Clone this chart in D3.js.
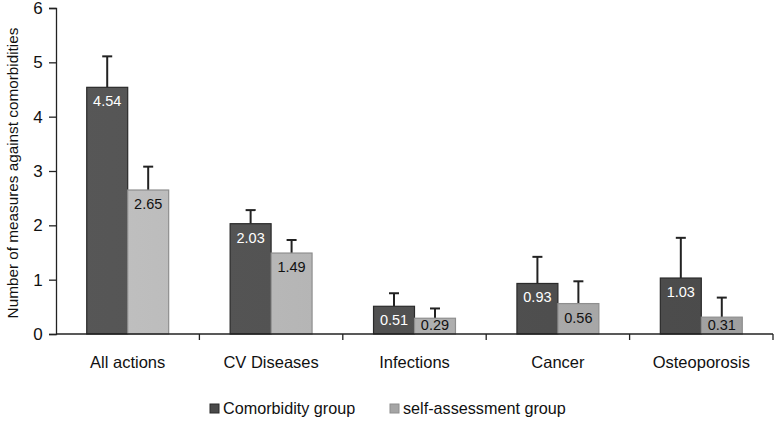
<!DOCTYPE html>
<html>
<head>
<meta charset="utf-8">
<script src="https://cdn.jsdelivr.net/npm/d3@7"></script>
<style>
  body { margin: 0; background: #fff; }
  text { font-family: "Liberation Sans", Arial, sans-serif; }
</style>
</head>
<body>
<svg id="chart" width="777" height="421"></svg>
<script>
// data
let categories = ["All actions", "CV Diseases", "Infections", "Cancer", "Osteoporosis"];
let comorbidity = [4.54, 2.03, 0.51, 0.93, 1.03];
let comorbidityErr = [5.11, 2.28, 0.75, 1.42, 1.77];
let selfAssess = [2.65, 1.49, 0.29, 0.56, 0.31];
let selfAssessErr = [3.08, 1.73, 0.47, 0.97, 0.67];
let seriesNames = ["Comorbidity group", "self-assessment group"];
let yTicks = [0, 1, 2, 3, 4, 5, 6];

let svg = d3.select("#chart");
let margin = { left: 56, right: 4, top: 8, bottom: 87 };
let width = 777, height = 421;

let x = d3.scaleBand()
  .domain(categories)
  .range([margin.left, width - margin.right])
  .paddingInner(0)
  .paddingOuter(0);

let x1 = d3.scaleBand()
  .domain([0, 1])
  .range([0, x.bandwidth()])
  .paddingInner(0)
  .paddingOuter(0.75);

let y = d3.scaleLinear()
  .domain([0, 6])
  .range([height - margin.bottom, margin.top]);

// gradients across the plot: bars get a bit darker to the right
let defs = svg.append("defs");
let grads = [["gDark", "#575757", "#4a4a4a"], ["gLight", "#c2c2c2", "#9e9e9e"]];
grads.forEach((g) => {
  let lg = defs.append("linearGradient").attr("id", g[0])
    .attr("gradientUnits", "userSpaceOnUse")
    .attr("x1", margin.left).attr("y1", 0).attr("x2", width - margin.right).attr("y2", 0);
  lg.append("stop").attr("offset", "0%").attr("stop-color", g[1]);
  lg.append("stop").attr("offset", "100%").attr("stop-color", g[2]);
});

let fills = ["url(#gDark)", "url(#gLight)"];
let strokes = ["#2a2a2a", "#8e8e8e"];
let labelColors = ["#fff", "#111"];

let rows = [];
categories.forEach((c, i) => {
  rows.push({ cat: c, s: 0, v: comorbidity[i], e: comorbidityErr[i] });
  rows.push({ cat: c, s: 1, v: selfAssess[i], e: selfAssessErr[i] });
});

// error bars (drawn first so bars cover the lower part)
let err = svg.append("g").selectAll("g").data(rows).enter().append("g");
err.append("line")
  .attr("x1", (d) => x(d.cat) + x1(d.s) + x1.bandwidth() / 2)
  .attr("x2", (d) => x(d.cat) + x1(d.s) + x1.bandwidth() / 2)
  .attr("y1", (d) => y(d.v))
  .attr("y2", (d) => y(d.e))
  .attr("stroke", "#222").attr("stroke-width", 2);
err.append("line")
  .attr("x1", (d) => x(d.cat) + x1(d.s) + x1.bandwidth() / 2 - 5)
  .attr("x2", (d) => x(d.cat) + x1(d.s) + x1.bandwidth() / 2 + 5)
  .attr("y1", (d) => y(d.e))
  .attr("y2", (d) => y(d.e))
  .attr("stroke", "#222").attr("stroke-width", 2);

svg.append("g").selectAll("rect").data(rows).enter().append("rect")
  .attr("x", (d) => x(d.cat) + x1(d.s))
  .attr("y", (d) => y(d.v))
  .attr("width", x1.bandwidth())
  .attr("height", (d) => y(0) - y(d.v))
  .attr("fill", (d) => fills[d.s])
  .attr("stroke", (d) => strokes[d.s])
  .attr("stroke-width", 1.2);

// value labels inside the bars
svg.append("g").selectAll("text").data(rows).enter().append("text")
  .attr("x", (d) => x(d.cat) + x1(d.s) + x1.bandwidth() / 2)
  .attr("y", (d) => Math.min(y(d.v) + 19, y(0) - 4))
  .attr("text-anchor", "middle")
  .attr("font-size", 14.5)
  .attr("fill", (d) => labelColors[d.s])
  .text((d) => d.v.toFixed(2));

// y axis
let yAxis = svg.append("g")
  .attr("transform", "translate(" + margin.left + ",0)")
  .call(d3.axisLeft(y).tickValues(yTicks).tickSize(7).tickFormat(d3.format("d")));
yAxis.selectAll("path, line").attr("stroke", "#222").attr("stroke-width", 1.3);
yAxis.selectAll("text").attr("font-size", 17).attr("fill", "#111").attr("dx", "-0.2em")
  .style("font-family", "'Liberation Sans', Arial, sans-serif");

// x axis: ticks at category boundaries
let xAxis = svg.append("g").attr("transform", "translate(0," + y(0) + ")");
xAxis.append("line")
  .attr("x1", margin.left).attr("x2", width - margin.right)
  .attr("stroke", "#222").attr("stroke-width", 1.3);
xAxis.selectAll("line.tk").data(categories).enter().append("line")
  .attr("class", "tk")
  .attr("x1", (d) => x(d) + x.bandwidth())
  .attr("x2", (d) => x(d) + x.bandwidth())
  .attr("y1", 0).attr("y2", 6)
  .attr("stroke", "#222").attr("stroke-width", 1.3);
xAxis.selectAll("text").data(categories).enter().append("text")
  .attr("x", (d) => x(d) + x.bandwidth() / 2)
  .attr("y", 34)
  .attr("text-anchor", "middle")
  .attr("font-size", 16.5)
  .attr("fill", "#111")
  .text((d) => d);

// y title
svg.append("text")
  .attr("transform", "translate(18," + (y(3) + 2) + ") rotate(-90)")
  .attr("text-anchor", "middle")
  .attr("font-size", 15.3)
  .attr("fill", "#111")
  .text("Number of measures against comorbidities");

// legend
let legendX = [210, 390];
let legend = svg.append("g").selectAll("g").data(seriesNames).enter().append("g")
  .attr("transform", (d, i) => "translate(" + legendX[i] + ",404)");
legend.append("rect")
  .attr("width", 9).attr("height", 9).attr("y", 0)
  .attr("fill", (d, i) => ["#4a4a4a", "#a5a5a5"][i])
  .attr("stroke", (d, i) => strokes[i]);
legend.append("text")
  .attr("x", 13).attr("y", 10)
  .attr("font-size", 16.2)
  .attr("fill", "#111")
  .text((d) => d);
</script>
</body>
</html>
